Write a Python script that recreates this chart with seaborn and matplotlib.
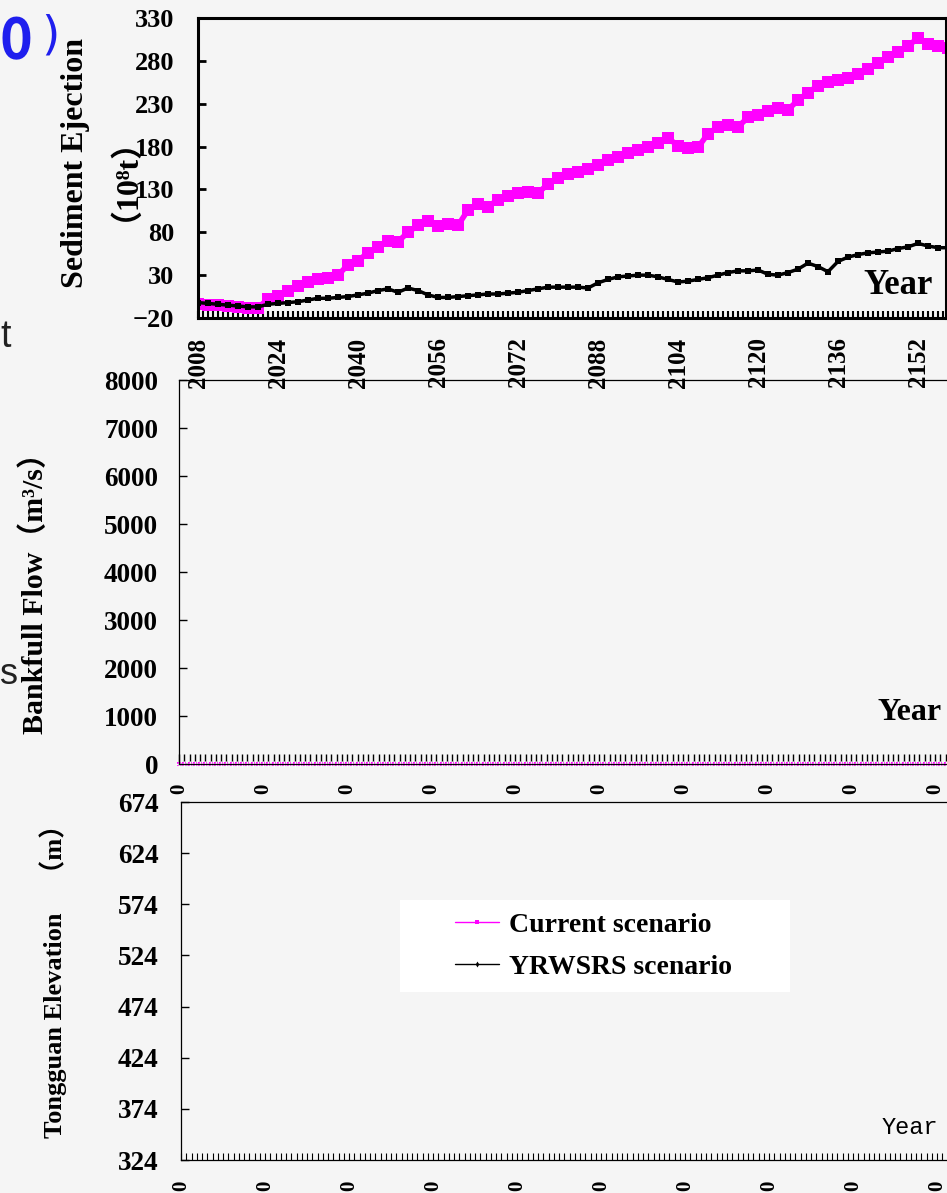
import numpy as np
import pandas as pd
import seaborn as sns
import matplotlib.pyplot as plt
from matplotlib.patches import Rectangle
from matplotlib.ticker import MultipleLocator

W, H = 947, 1193

# sediment ejection (10^8 t), read every 2 years
years = list(range(2008, 2159, 2))
current_ejection = [-4, -5, -5, -6, -7, -8, -8, 2, 6, 12, 17, 22, 25, 27, 30, 42,
                    47, 56, 63, 70, 69, 80, 88, 93, 87, 90, 88, 106, 113, 110, 118, 122,
                    126, 127, 126, 136, 143, 148, 150, 154, 158, 164, 168, 172, 176, 180,
                    184, 190, 181, 178, 179, 195, 203, 205, 203, 214, 217, 222, 225, 223,
                    234, 243, 251, 255, 258, 260, 265, 270, 278, 285, 290, 297, 307, 300,
                    297, 295]
yrwsrs_ejection = [-2, -3, -4, -5, -6, -7, -7, -4, -3, -2, -1, 1, 3, 3, 4, 5,
                   7, 9, 12, 14, 10, 15, 12, 7, 4, 4, 5, 6, 7, 8, 8, 9,
                   10, 12, 14, 16, 16, 16, 16, 15, 21, 25, 28, 29, 30, 30,
                   28, 25, 22, 23, 25, 27, 30, 33, 35, 35, 36, 31, 30, 33,
                   37, 44, 40, 34, 46, 51, 54, 56, 57, 58, 61, 63, 67, 64,
                   62, 62]
ejection_ticks = [-20, 30, 80, 130, 180, 230, 280, 330]
year_ticks = [2008, 2024, 2040, 2056, 2072, 2088, 2104, 2120, 2136, 2152]

# bankfull flow and elevation panels: every value reads 0
flow_years = list(range(2008, 2159))
flow_current = [0] * len(flow_years)
flow_yrwsrs = [0] * len(flow_years)
flow_ticks = [0, 1000, 2000, 3000, 4000, 5000, 6000, 7000, 8000]
elev_current = [0] * len(flow_years)
elev_yrwsrs = [0] * len(flow_years)
elev_ticks = [324, 374, 424, 474, 524, 574, 624, 674]
zero_labels = ["0"] * len(year_ticks)

sns.set_theme(style="ticks")
plt.rcParams['font.family'] = ['Liberation Serif', 'Noto Sans CJK SC', 'DejaVu Serif']
plt.rcParams['font.weight'] = 'bold'
for key in ['text.color', 'axes.labelcolor', 'xtick.color', 'ytick.color', 'axes.edgecolor']:
    plt.rcParams[key] = 'black'

bg = '#f5f5f5'
fig = plt.figure(figsize=(W / 100, H / 100), dpi=100, facecolor=bg)


def box(l, t, r, b):
    return [l / W, 1 - b / H, (r - l) / W, (b - t) / H]


ax1 = fig.add_axes(box(198, 18, 946, 318))
ax2 = fig.add_axes(box(179, 380, 977, 764))
ax3 = fig.add_axes(box(181, 802, 979, 1160))
ax1.set_zorder(3)
for ax in (ax1, ax2, ax3):
    ax.set_facecolor('none')

# top: sediment ejection
sns.lineplot(x=years, y=current_ejection, ax=ax1, color='#ff00ff', marker='s',
             markersize=8, markeredgewidth=0, linewidth=4, legend=False)
sns.lineplot(x=years, y=yrwsrs_ejection, ax=ax1, color='black', marker='s',
             markersize=4.5, markeredgewidth=0, linewidth=2.5, legend=False)
ax1.set_xlim(2008, 2157.6)
ax1.set_ylim(-20, 330)
ax1.set_yticks(ejection_ticks)
ax1.set_xticks(year_ticks)
ax1.xaxis.set_minor_locator(MultipleLocator(1))
ax1.tick_params(axis='y', direction='in', length=6, width=2, labelsize=19, pad=17)
ax1.tick_params(axis='x', which='both', direction='in', length=5, width=1.5,
                labelsize=18, pad=14, labelrotation=90)
for s in ax1.spines.values():
    s.set_linewidth(2.2)
ax1.set_xlabel('')
ax1.set_ylabel('')
fig.text(93 / W, 1 - 163 / H, "Sediment Ejection\n（10⁸t）", rotation=90, ha='center',
         va='center', fontsize=23, linespacing=1.15, multialignment='center')
fig.text(898 / W, 1 - 285 / H, "Year", ha='center', va='center', fontsize=25)

# middle: bankfull flow
sns.lineplot(x=flow_years, y=flow_current, ax=ax2, color='#ff00ff', marker='s',
             markersize=3, markeredgewidth=0, linewidth=1, legend=False, clip_on=False)
sns.lineplot(x=flow_years, y=flow_yrwsrs, ax=ax2, color='black', marker='+',
             markersize=4, markeredgewidth=1, linewidth=0.6, legend=False, clip_on=False)
ax2.set_xlim(2008, 2160)
ax2.set_ylim(0, 8000)
ax2.set_yticks(flow_ticks)
ax2.set_xticks(year_ticks)
ax2.set_xticklabels(zero_labels)
ax2.xaxis.set_minor_locator(MultipleLocator(1))
ax2.tick_params(axis='y', direction='in', length=6, width=1, labelsize=19.5, pad=15)
ax2.tick_params(axis='x', which='both', direction='in', length=7, width=1,
                labelsize=15, pad=14, labelrotation=90)
for s in ax2.spines.values():
    s.set_linewidth(0.9)
ax2.set_xlabel('')
ax2.set_ylabel('')
fig.text(35 / W, 1 - 586 / H, "Bankfull Flow（m³/s）", rotation=90, ha='center',
         va='center', fontsize=21.5)
fig.text(910 / W, 1 - 712 / H, "Year", ha='center', va='center', fontsize=23)

# bottom: Tongguan elevation
sns.lineplot(x=flow_years, y=elev_current, ax=ax3, color='#ff00ff', marker='s',
             markersize=3, markeredgewidth=0, linewidth=1, label='Current scenario')
sns.lineplot(x=flow_years, y=elev_yrwsrs, ax=ax3, color='black', marker='d',
             markersize=3, markeredgewidth=0, linewidth=1, label='YRWSRS scenario')
ax3.set_xlim(2008, 2160)
ax3.set_ylim(324, 674)
ax3.set_yticks(elev_ticks)
ax3.set_xticks(year_ticks)
ax3.set_xticklabels(zero_labels)
ax3.xaxis.set_minor_locator(MultipleLocator(1))
ax3.tick_params(axis='y', direction='in', length=6, width=1, labelsize=19.5, pad=16)
ax3.tick_params(axis='x', which='both', direction='in', length=5, width=0.8,
                labelsize=15, pad=15, labelrotation=90)
for s in ax3.spines.values():
    s.set_linewidth(0.9)
ax3.set_xlabel('')
ax3.set_ylabel('')
fig.text(53 / W, 1 - 975 / H, "Tongguan Elevation　（m）", rotation=90, ha='center',
         va='center', fontsize=19)
fig.text(910 / W, 1 - 1127 / H, "Year", ha='center', va='center', fontsize=17,
         family='Liberation Mono', weight='normal')

handles, labels = ax3.get_legend_handles_labels()
ax3.get_legend().remove()
fig.add_artist(Rectangle((400 / W, 1 - 992 / H), 390 / W, 92 / H, transform=fig.transFigure,
                         facecolor='white', edgecolor='none', zorder=1))
fig.legend(handles, labels, loc='center left', bbox_to_anchor=(455 / W, 1 - 946 / H),
           frameon=False, fontsize=20, handlelength=1.6, handletextpad=0.35,
           labelspacing=0.6, borderpad=0, borderaxespad=0)

# slide fragments at the left edge
fig.text(0.0, 1 - 42 / H, "0", color='#1f1fee', fontsize=40, ha='left', va='center',
         family=['Noto Sans CJK SC', 'DejaVu Sans'])
fig.text(41 / W, 1 - 36 / H, ")", color='#1f1fee', fontsize=34, ha='left', va='center',
         family=['DejaVu Sans'], weight='normal')
fig.text(0.0, 1 - 337 / H, "t", color='#222222', fontsize=27, ha='left', va='center',
         family=['Liberation Sans'], weight='normal')
fig.text(0.0, 1 - 675 / H, "s", color='#222222', fontsize=26, ha='left', va='center',
         family=['Liberation Sans'], weight='normal')

fig.savefig("out.png", dpi=100, facecolor=bg)
